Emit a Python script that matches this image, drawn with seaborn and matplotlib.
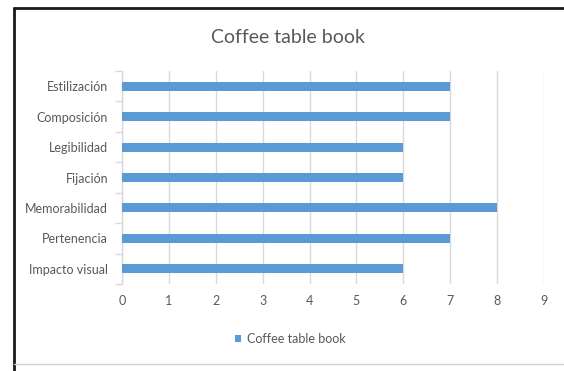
import matplotlib
matplotlib.use("Agg")
import matplotlib.pyplot as plt
from matplotlib.lines import Line2D
from matplotlib.patches import Patch
import seaborn as sns
import pandas as pd

categories = ["Estilización", "Composición", "Legibilidad", "Fijación",
              "Memorabilidad", "Pertenencia", "Impacto visual"]
values = [7, 7, 6, 6, 8, 7, 6]
series_name = "Coffee table book"
x_ticks = list(range(0, 10))

sns.set_theme(style="white")
plt.rcParams["font.family"] = ["Lato", "DejaVu Sans"]

text_color = "#595959"
grid_color = "#D9D9D9"
bar_color = "#5B9BD5"

df = pd.DataFrame({"category": categories, "value": values})

fig = plt.figure(figsize=(5.64, 3.71), dpi=100)
ax = fig.add_axes([0.2163, 0.2345, 0.7482, 0.5741])

sns.barplot(data=df, x="value", y="category", order=categories, orient="h",
            color=bar_color, width=0.3, saturation=1, ax=ax, zorder=3,
            linewidth=0)

ax.set_xlim(0, 9)
ax.set_ylim(len(categories) - 0.5, -0.5)
ax.set_xticks(x_ticks)
ax.set_xticklabels([str(t) for t in x_ticks], color=text_color, fontsize=9)
ax.set_xlabel("")
ax.set_ylabel("")
ax.tick_params(axis="x", length=0, pad=8)
ax.tick_params(axis="y", length=0, pad=10, labelsize=9, labelcolor=text_color)

# category boundary ticks on the left spine
ax.set_yticks([i - 0.5 for i in range(len(categories) + 1)], minor=True)
ax.tick_params(axis="y", which="minor", length=5, color=grid_color, width=1, left=True)

ax.xaxis.grid(True, color=grid_color, linewidth=1, zorder=0)
ax.set_axisbelow(True)
for side in ["top", "right", "bottom"]:
    ax.spines[side].set_visible(False)
ax.spines["left"].set_color(grid_color)
ax.spines["left"].set_linewidth(1)

fig.text(0.511, 0.9, series_name, ha="center", va="center",
         fontsize=14, color=text_color)

handle = Patch(facecolor=bar_color, edgecolor="none")
fig.legend([handle], [series_name], loc="center", bbox_to_anchor=(0.515, 0.086),
           frameon=False, fontsize=9, labelcolor=text_color,
           handlelength=0.5, handleheight=0.5, handletextpad=0.5)

# outer frame of the chart area
fig.add_artist(Line2D([0.024, 0.024], [0, 0.978], color="#1a1a1a", linewidth=2,
                      transform=fig.transFigure))
fig.add_artist(Line2D([0.024, 1.0], [0.978, 0.978], color="#1a1a1a", linewidth=2,
                      transform=fig.transFigure))
fig.add_artist(Line2D([0.024, 1.0], [0.019, 0.019], color="#D0D0D0", linewidth=1,
                      transform=fig.transFigure))

fig.savefig("out.png", dpi=100)
